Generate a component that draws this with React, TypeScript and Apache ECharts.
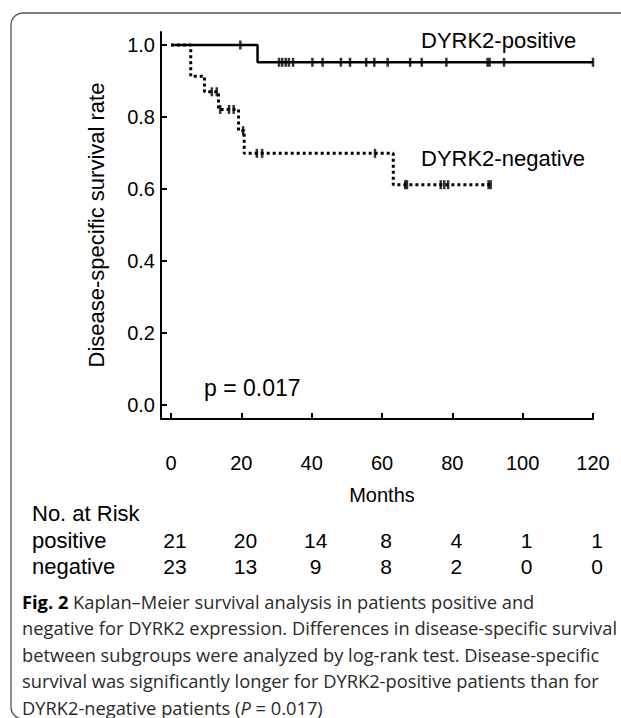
import React, { useEffect, useRef } from "react";
import * as echarts from "echarts";

// ---- data ----
const xTicks = [0, 20, 40, 60, 80, 100, 120];
const yTicks = [0, 0.2, 0.4, 0.6, 0.8, 1.0];

// DYRK2-positive: step times (months) and survival after each step
const posStepTimes = [0, 24.6, 120];
const posStepSurv = [1.0, 0.952, 0.952];
const posCensorTimes = [19.7, 30.7, 31.6, 32.6, 33.5, 34.7, 40.2, 43.1, 48.3, 50.9, 55.5, 57.8, 61.6, 68.0, 71.3, 78.3, 90.0, 90.6, 94.7, 120];

// DYRK2-negative
const negStepTimes = [0, 5.6, 9.5, 13.5, 19.2, 20.8, 63.2, 90.9];
const negStepSurv = [1.0, 0.913, 0.87, 0.821, 0.762, 0.699, 0.612, 0.612];
const negCensorTimes = [11.6, 13.0, 14.0, 16.5, 17.8, 20.5, 24.4, 25.9, 58.0, 66.6, 67.1, 76.7, 77.7, 78.8, 90.3, 90.9];

// number at risk
const riskTimes = [0, 20, 40, 60, 80, 100, 120];
const riskPositive = [21, 20, 14, 8, 4, 1, 1];
const riskNegative = [23, 13, 9, 8, 2, 0, 0];

const pValueText = "p = 0.017";
const captionLines = [
  "{b|Fig. 2} Kaplan–Meier survival analysis in patients positive and",
  "negative for DYRK2 expression. Differences in disease-specific survival",
  "between subgroups were analyzed by log-rank test. Disease-specific",
  "survival was significantly longer for DYRK2-positive patients than for",
  "DYRK2-negative patients ({i|P} = 0.017)",
];

function levelAt(times: number[], surv: number[], t: number) {
  let v = surv[0];
  for (let i = 0; i < times.length; i++) if (times[i] <= t) v = surv[i];
  return v;
}

const FONT = "Liberation Sans, Arial, Helvetica, sans-serif";
const CAP_FONT = "Open Sans, Noto Sans, sans-serif";
const CAP_SIZE = 18.3;
const CAP_LH = 20;

export default function App() {
  const ref = useRef<HTMLDivElement>(null);
  useEffect(() => {
    if (!ref.current) return;
    const chart = echarts.init(ref.current, undefined, { renderer: "svg" });
    const posLine = posStepTimes.map((t, i) => [t, posStepSurv[i]]);
    const negLine = negStepTimes.map((t, i) => [t, negStepSurv[i]]);
    const posCens = posCensorTimes.map((t) => [t, levelAt(posStepTimes, posStepSurv, t)]);
    const negCens = negCensorTimes.map((t) => [t, levelAt(negStepTimes, negStepSurv, t)]);

    chart.setOption({
      animation: false,
      backgroundColor: "#fff",
      grid: { left: 161, right: 28, top: 32, bottom: 299 },
      xAxis: {
        type: "value",
        min: -10 / 3.5,
        max: 120,
        splitLine: { show: false },
        axisLine: { show: true, onZero: false, lineStyle: { color: "#000", width: 2 } },
        axisTick: { show: true, inside: true, length: 6, customValues: xTicks, lineStyle: { color: "#000", width: 2 } },
        axisLabel: { customValues: xTicks, color: "#000", fontSize: 20, fontFamily: FONT, margin: 34 },
      },
      yAxis: {
        type: "value",
        min: -14 / 360,
        max: 1 + 13 / 360,
        splitLine: { show: false },
        axisLine: { show: true, onZero: false, lineStyle: { color: "#000", width: 2 } },
        axisTick: { show: true, inside: true, length: 6, customValues: yTicks, lineStyle: { color: "#000", width: 2 } },
        axisLabel: {
          customValues: yTicks,
          color: "#000",
          fontSize: 20,
          fontFamily: FONT,
          margin: 6,
          formatter: (v: number) => v.toFixed(1),
        },
      },
      series: [
        {
          type: "line",
          data: posLine,
          step: "end",
          showSymbol: false,
          lineStyle: { color: "#000", width: 2.5, type: "solid" },
          z: 3,
        },
        {
          type: "line",
          data: negLine,
          step: "end",
          showSymbol: false,
          lineStyle: { color: "#000", width: 3, type: [3, 3] },
          z: 3,
        },
        {
          type: "scatter",
          data: posCens,
          symbol: "rect",
          symbolSize: [2.5, 9],
          itemStyle: { color: "#000" },
          z: 4,
        },
        {
          type: "scatter",
          data: negCens,
          symbol: "rect",
          symbolSize: [2.5, 9],
          itemStyle: { color: "#000" },
          z: 4,
        },
      ],
    });

    const risk: any[] = [];
    riskTimes.forEach((t, i) => {
      const x = chart.convertToPixel({ xAxisIndex: 0 }, t) + 4;
      risk.push({
        type: "text", x, y: 540,
        style: { text: String(riskPositive[i]), fontSize: 21, fontFamily: FONT, fill: "#000", align: "center", verticalAlign: "middle" },
      });
      risk.push({
        type: "text", x, y: 566,
        style: { text: String(riskNegative[i]), fontSize: 21, fontFamily: FONT, fill: "#000", align: "center", verticalAlign: "middle" },
      });
    });

    const caption = captionLines.map((line, i) => ({
      type: "text",
      x: 22,
      y: 601 + i * 26.5,
      style: {
        text: line,
        fontSize: CAP_SIZE,
        lineHeight: CAP_LH,
        fontFamily: CAP_FONT,
        fill: "#2a2a2a",
        align: "left",
        verticalAlign: "middle",
        rich: {
          b: { fontWeight: "bold", fontSize: CAP_SIZE, lineHeight: CAP_LH, fontFamily: CAP_FONT, fill: "#000" },
          i: { fontStyle: "italic", fontSize: CAP_SIZE, lineHeight: CAP_LH, fontFamily: CAP_FONT, fill: "#2a2a2a" },
        },
      },
    }));

    chart.setOption({
      graphic: [
        {
          type: "rect",
          shape: { x: 11, y: 13, width: 650, height: 706, r: 12 },
          style: { fill: "none", stroke: "#555", lineWidth: 1.3 },
        },
        {
          type: "text", x: 421, y: 40,
          style: { text: "DYRK2-positive", fontSize: 22, fontFamily: FONT, fill: "#000", align: "left", verticalAlign: "middle" },
        },
        {
          type: "text", x: 421, y: 158,
          style: { text: "DYRK2-negative", fontSize: 22, fontFamily: FONT, fill: "#000", align: "left", verticalAlign: "middle" },
        },
        {
          type: "text", x: 204, y: 388,
          style: { text: pValueText, fontSize: 23, fontFamily: FONT, fill: "#000", align: "left", verticalAlign: "middle" },
        },
        {
          type: "text", x: 96, y: 225, rotation: Math.PI / 2,
          style: { text: "Disease-specific survival rate", fontSize: 22, fontFamily: FONT, fill: "#000", align: "center", verticalAlign: "middle" },
        },
        {
          type: "text", x: 382, y: 495,
          style: { text: "Months", fontSize: 20, fontFamily: FONT, fill: "#000", align: "center", verticalAlign: "middle" },
        },
        {
          type: "text", x: 32, y: 513,
          style: { text: "No. at Risk", fontSize: 22, fontFamily: FONT, fill: "#000", align: "left", verticalAlign: "middle" },
        },
        {
          type: "text", x: 32, y: 540,
          style: { text: "positive", fontSize: 22, fontFamily: FONT, fill: "#000", align: "left", verticalAlign: "middle" },
        },
        {
          type: "text", x: 32, y: 566,
          style: { text: "negative", fontSize: 22, fontFamily: FONT, fill: "#000", align: "left", verticalAlign: "middle" },
        },
        ...risk,
        ...caption,
      ],
    });

    return () => chart.dispose();
  }, []);

  return (
    <div
      ref={ref}
      style={{ position: "absolute", left: 0, top: 0, width: 621, height: 718, background: "#fff" }}
    />
  );
}
